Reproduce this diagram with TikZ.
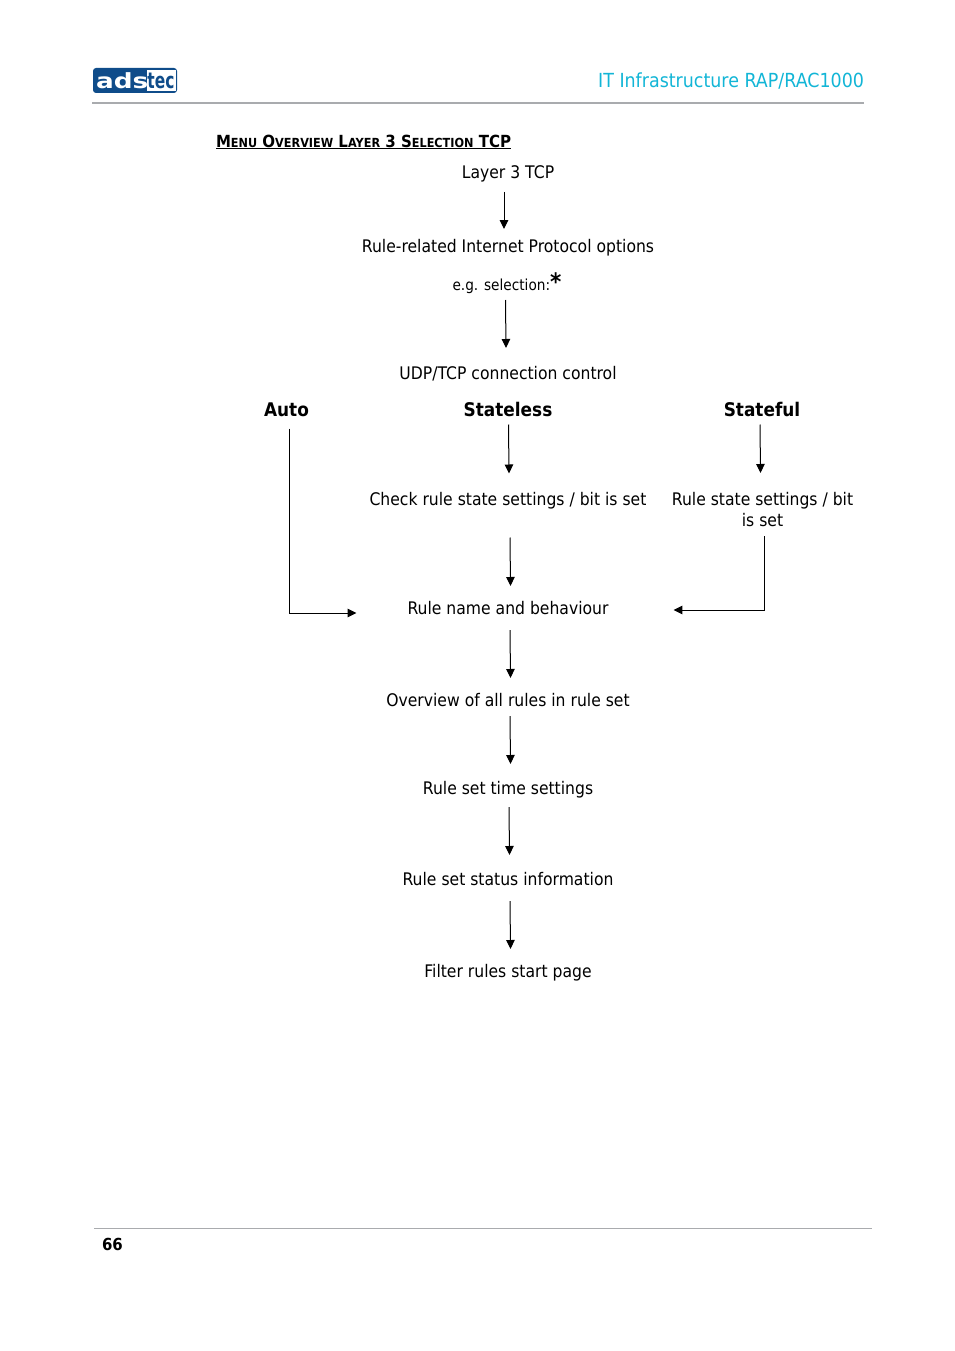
\documentclass[tikz,border=0pt]{standalone}
\usepackage{fontspec}
\setmainfont{DejaVu Sans}[FakeStretch=0.9]
\usetikzlibrary{arrows.meta,calc}
\definecolor{adsblue}{HTML}{0F4C8A}
\definecolor{headcyan}{HTML}{12B5D6}
\definecolor{rulegray}{HTML}{A9ABAE}
\newcommand{\smcp}[2]{{#1}{\fontsize{12.5}{14}\selectfont #2}}
\tikzset{
  x=1pt,y=-1pt,
  lab/.style={inner sep=0pt,outer sep=0pt,font=\fontsize{17.35}{21}\selectfont,text height=15pt,text depth=2pt,align=center},
  head/.style={lab,font=\fontsize{18.8}{22}\selectfont\bfseries},
  arr/.style={-{Triangle[width=8.5pt,length=9pt]},line width=1pt,black},
}
\begin{document}
\begin{tikzpicture}
\useasboundingbox (0,0) rectangle (954,1351);
% logo
\node[fill=adsblue,rounded corners=3pt,minimum width=84pt,minimum height=25pt,inner sep=0pt] (logo) at (135,80.5) {};
\node[fill=white,minimum width=29pt,minimum height=21pt,inner sep=0pt,anchor=east,text=adsblue,font=\fontsize{22}{22}\selectfont\bfseries] (tec) at ([xshift=-1.5pt]logo.east) {\scalebox{0.78}[1]{tec}};
\node[inner sep=0pt,text=white,font=\fontsize{22}{22}\selectfont\bfseries,anchor=west] (ads) at ([xshift=3pt,yshift=-0.5pt]logo.west) {\scalebox{1.33}[0.95]{ads}};
% header
\node[lab,anchor=east,text=headcyan,font=\fontsize{19.4}{23}\selectfont] (htitle) at (864,81) {IT Infrastructure RAP/RAC1000};
\coordinate (hl) at (92,103); \coordinate (hr) at (864,103);
\draw[rulegray,line width=2pt] (hl) -- (hr);
% section title
\node[lab,anchor=west,font=\fontsize{16.7}{20}\selectfont\bfseries] (sect) at (216,141) {\smcp{M}{ENU} \smcp{O}{VERVIEW} \smcp{L}{AYER} 3 \smcp{S}{ELECTION} TCP};
\draw[black,line width=1.2pt] ([yshift=1pt]sect.south west) -- ([yshift=1pt]sect.south east);
% flow
\node[lab] (n1) at (508,172) {Layer 3 TCP};
\node[lab] (n2) at (508,246) {Rule-related Internet Protocol options};
\node[lab,font=\fontsize{15.2}{18}\selectfont] (n3) at (507,284) {e.g. selection:{\fontsize{24}{20}\selectfont\bfseries *}};
\node[lab] (n4) at (508,373) {UDP/TCP connection control};
\node[head] (auto) at (286.5,410) {Auto};
\node[head] (sless) at (508,410) {Stateless};
\node[head] (sful) at (762,410) {Stateful};
\node[lab] (chk) at (508,499) {Check rule state settings / bit is set};
\node[lab] (rss) at (762.5,519.5) {Rule state settings / bit\\is set};
\node[lab] (name) at (508,608) {Rule name and behaviour};
\node[lab] (over) at (508,700) {Overview of all rules in rule set};
\node[lab] (time) at (508,788) {Rule set time settings};
\node[lab] (stat) at (508,879) {Rule set status information};
\node[lab] (filt) at (508,971) {Filter rules start page};
% connectors
\draw[arr] ($(n1.south)+(-4,11.5)$) -- ($(n2.north)+(-4,-8.5)$);
\draw[arr] ($(n3.south)+(-1.5,7.5)$) -- ($(n4.north)+(-2,-16.5)$);
\draw[arr] ($(sless.south)+(0.5,6)$) -- ($(chk.north)+(1,-17)$);
\draw[arr] ($(sful.south)+(-2,6)$) -- ($(sful.south)+(-1.5,54.5)$);
\draw[arr] ($(chk.south)+(2,30)$) -- ($(name.north)+(2.5,-13.5)$);
\draw[arr] ($(name.south)+(2,13.5)$) -- ($(over.north)+(2.5,-13.5)$);
\draw[arr] ($(over.south)+(2,7.5)$) -- ($(time.north)+(2.5,-15.5)$);
\draw[arr] ($(time.south)+(1,10.5)$) -- ($(stat.north)+(1.5,-15.5)$);
\draw[arr] ($(stat.south)+(2,13.5)$) -- ($(filt.north)+(2.5,-13.5)$);
\draw[arr] ($(auto.south)+(3,10)$) |- ($(name.west)+(-51,5)$);
\draw[arr] ($(rss.south)+(2,8)$) |- ($(name.east)+(65,2)$);
% footer
\coordinate (fl) at (94,1228.5); \coordinate (fr) at (872,1228.5);
\draw[rulegray,line width=1pt] (fl) -- (fr);
\node[lab,anchor=west,font=\fontsize{16.6}{20}\selectfont\bfseries] (page) at (102,1244) {66};
\end{tikzpicture}
\end{document}
